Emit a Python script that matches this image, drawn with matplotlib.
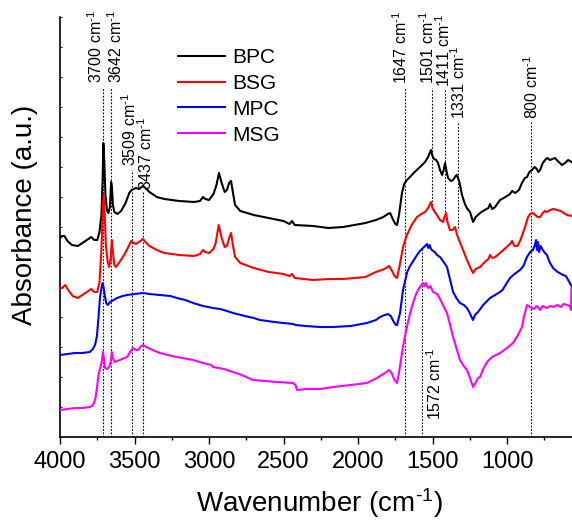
import matplotlib
matplotlib.use('Agg')
import matplotlib.pyplot as plt
import numpy as np

plt.rcParams['font.family'] = ['Liberation Sans', 'DejaVu Sans']
plt.rcParams['mathtext.default'] = 'regular'

# spectra: wavenumber (cm-1) and offset absorbance (arbitrary units)
bpc_wn = [4000, 3985, 3970, 3950, 3920, 3880, 3840, 3810, 3790, 3770, 3750, 3735, 3722, 3714, 3709,
          3703, 3695, 3685, 3675, 3665, 3657, 3652, 3645, 3635, 3615, 3590, 3560, 3535, 3520, 3505,
          3490, 3470, 3443, 3420, 3400, 3350, 3300, 3200, 3100, 3060, 3040, 3025, 3000, 2970, 2950,
          2933, 2915, 2895, 2880, 2865, 2852, 2840, 2825, 2790, 2700, 2600, 2500, 2460, 2443, 2425,
          2300, 2200, 2100, 1950, 1880, 1830, 1800, 1785, 1770, 1750, 1738, 1725, 1705, 1690, 1672,
          1651, 1620, 1584, 1550, 1530, 1510, 1500, 1490, 1475, 1463, 1450, 1436, 1425, 1416, 1405,
          1396, 1375, 1362, 1345, 1336, 1320, 1302, 1285, 1270, 1248, 1228, 1210, 1181, 1150, 1125,
          1114, 1100, 1080, 1047, 1010, 980, 966, 945, 920, 900, 880, 866, 850, 832, 815,
          800, 790, 778, 760, 745, 730, 711, 695, 678, 660, 645, 631, 610, 590, 566]
bpc_abs = [199, 201, 201, 196, 192, 191, 195, 198, 200, 197, 197, 205, 222, 257, 294,
           277, 242, 227, 224, 230, 255, 251, 232, 225, 223, 226, 234, 244, 247, 248,
           249, 248, 251, 248, 245, 240, 238, 236, 235, 236, 240, 238, 237, 243, 252,
           264, 254, 245, 247, 254, 256, 245, 232, 226, 222, 219, 216, 213, 216, 212,
           211, 209, 210, 214, 217, 220, 223, 224, 219, 213, 212, 222, 244, 253, 257,
           260, 265, 270, 275, 280, 287, 281, 278, 277, 274, 267, 262, 267, 274, 265,
           259, 256, 257, 261, 262, 255, 242, 234, 229, 225, 215, 220, 224, 227, 229,
           233, 228, 230, 237, 240, 243, 246, 244, 247, 254, 259, 260, 265, 267, 270,
           268, 265, 267, 274, 277, 279, 277, 278, 279, 276, 274, 272, 274, 277, 275]

bsg_wn = [4000, 3985, 3965, 3945, 3915, 3880, 3840, 3810, 3790, 3770, 3750, 3735, 3722, 3714, 3708,
          3700, 3692, 3680, 3670, 3660, 3652, 3645, 3635, 3625, 3600, 3570, 3545, 3522, 3505, 3490,
          3470, 3443, 3420, 3400, 3350, 3300, 3200, 3100, 3060, 3040, 3025, 3000, 2970, 2955, 2935,
          2915, 2895, 2880, 2865, 2852, 2840, 2825, 2790, 2700, 2600, 2500, 2460, 2443, 2425, 2300,
          2200, 2100, 1950, 1880, 1840, 1810, 1792, 1775, 1755, 1738, 1720, 1698, 1672, 1640, 1604,
          1575, 1550, 1530, 1510, 1500, 1485, 1470, 1450, 1429, 1420, 1409, 1400, 1383, 1365, 1349,
          1335, 1316, 1295, 1269, 1245, 1228, 1210, 1181, 1150, 1125, 1114, 1100, 1080, 1047, 1010,
          980, 966, 950, 930, 910, 893, 875, 859, 845, 826, 810, 795, 778, 760, 745,
          732, 710, 690, 664, 640, 620, 597, 566]
bsg_abs = [149, 149, 152, 147, 141, 139, 143, 146, 148, 145, 145, 155, 187, 222, 242,
           222, 192, 175, 170, 179, 197, 185, 172, 170, 175, 182, 189, 196, 194, 193,
           195, 198, 194, 191, 187, 184, 182, 181, 183, 187, 185, 184, 188, 194, 212,
           199, 190, 191, 199, 204, 192, 180, 174, 169, 165, 163, 161, 163, 159, 157,
           158, 158, 160, 165, 167, 169, 171, 167, 161, 159, 172, 190, 202, 212, 220,
           223, 225, 229, 235, 229, 225, 222, 217, 215, 220, 224, 215, 207, 207, 210,
           202, 195, 187, 177, 169, 164, 168, 170, 175, 178, 182, 179, 180, 184, 189,
           193, 196, 191, 191, 197, 204, 212, 220, 223, 224, 222, 220, 220, 224, 226,
           225, 227, 228, 227, 226, 224, 222, 221]

mpc_wn = [4000, 3950, 3900, 3850, 3800, 3780, 3765, 3752, 3742, 3732, 3722, 3714, 3708, 3700, 3690,
          3680, 3664, 3640, 3617, 3580, 3550, 3500, 3443, 3400, 3329, 3260, 3215, 3160, 3107, 3040,
          2973, 2926, 2880, 2839, 2760, 2700, 2658, 2560, 2500, 2436, 2420, 2350, 2255, 2168, 2050,
          1940, 1880, 1852, 1820, 1799, 1780, 1760, 1745, 1738, 1728, 1718, 1698, 1670, 1651, 1625,
          1604, 1585, 1564, 1550, 1537, 1528, 1520, 1510, 1497, 1485, 1470, 1450, 1430, 1403, 1385,
          1362, 1340, 1316, 1290, 1269, 1250, 1235, 1228, 1215, 1195, 1160, 1114, 1080, 1047, 1030,
          1010, 980, 950, 913, 890, 866, 845, 826, 815, 805, 798, 792, 785, 775, 760,
          745, 732, 715, 691, 660, 624, 605, 590, 575, 566]
mpc_abs = [82, 83, 84, 84, 85, 88, 92, 101, 119, 139, 149, 154, 150, 142, 134,
           132, 135, 137, 139, 141, 142, 143, 144, 143, 142, 141, 139, 137, 134, 131,
           129, 128, 126, 124, 121, 119, 117, 115, 114, 113, 112, 111, 110, 110, 111,
           114, 117, 120, 122, 123, 121, 115, 112, 112, 118, 124, 147, 165, 171, 177,
           182, 186, 189, 191, 193, 189, 192, 188, 186, 185, 182, 180, 176, 170, 159,
           145, 139, 134, 132, 129, 124, 119, 117, 122, 125, 132, 139, 142, 145, 147,
           152, 159, 163, 167, 171, 180, 185, 187, 191, 197, 187, 195, 185, 191, 187,
           184, 182, 175, 169, 165, 162, 161, 157, 153, 151]

msg_wn = [4000, 3950, 3900, 3850, 3800, 3785, 3772, 3762, 3752, 3742, 3730, 3720, 3712, 3705, 3698,
          3685, 3670, 3660, 3652, 3645, 3633, 3600, 3550, 3525, 3510, 3490, 3476, 3460, 3443, 3420,
          3380, 3329, 3250, 3180, 3107, 3040, 2985, 2973, 2900, 2839, 2780, 2705, 2620, 2544, 2436,
          2420, 2409, 2350, 2255, 2168, 2050, 1940, 1873, 1830, 1800, 1792, 1775, 1755, 1738, 1725,
          1705, 1690, 1672, 1650, 1631, 1610, 1597, 1580, 1564, 1555, 1545, 1530, 1515, 1497, 1480,
          1463, 1440, 1420, 1403, 1385, 1362, 1340, 1316, 1290, 1269, 1248, 1235, 1228, 1215, 1195,
          1181, 1160, 1134, 1100, 1047, 1000, 960, 930, 900, 885, 866, 855, 846, 820, 800,
          778, 760, 735, 710, 691, 660, 640, 620, 597, 580, 570, 568]
msg_abs = [27, 28, 29, 29, 30, 31, 34, 39, 49, 62, 69, 75, 85, 79, 69,
           68, 70, 75, 85, 79, 75, 77, 80, 86, 89, 87, 87, 90, 92, 90,
           87, 84, 81, 79, 77, 74, 72, 70, 68, 65, 62, 57, 56, 55, 54,
           52, 47, 48, 48, 50, 52, 54, 59, 63, 66, 67, 64, 57, 54, 64,
           84, 97, 110, 124, 134, 143, 147, 151, 154, 151, 154, 149, 151, 145, 144,
           142, 135, 129, 124, 114, 100, 89, 77, 71, 67, 59, 53, 50, 53, 59,
           60, 68, 75, 80, 84, 89, 94, 101, 110, 121, 132, 131, 130, 128, 131,
           127, 131, 129, 131, 130, 132, 130, 133, 132, 131, 127, 149]

# marked bands: label text, where the dotted guide sits, guide extent
band_labels = ['3700', '3642', '3509', '3437', '1647', '1572', '1501', '1411', '1331', '800']
band_wn = [3710, 3655, 3520, 3442, 1688, 1573, 1505, 1418, 1332, 840]
band_top = [349, 349, 267, 245, 349, 189, 349, 347, 315, 315]
band_bottom = [0, 0, 0, 0, 0, 0, 232, 222, 209, 0]
# text anchor height and horizontal shift (px) from the guide
band_text_y = [354, 354, 271, 247, 353, 90, 353, 350, 318, 318]
band_text_dx = [-8, 4, -1.5, 3, -3.5, 13, -4.5, -1, 1, 1]

series = [('BPC', bpc_wn, bpc_abs, '#000000'),
          ('BSG', bsg_wn, bsg_abs, '#ff0000'),
          ('MPC', mpc_wn, mpc_abs, '#0000ff'),
          ('MSG', msg_wn, msg_abs, '#ff00ff')]

SUP = '$^{\u2010 1}$'   # short hyphen like the original, not a long minus

fig = plt.figure(figsize=(5.72, 5.20), dpi=100)
ax = fig.add_axes([60 / 572, 83 / 520, 512 / 572, 420 / 520])

for name, wn, ab, col in series:
    ax.plot(wn, ab, color=col, linewidth=1.5, label=name, zorder=3)

# dotted guide lines + rotated labels
for lab, wn, top, bot, ty, dx in zip(band_labels, band_wn, band_top, band_bottom,
                                     band_text_y, band_text_dx):
    ax.vlines(wn, bot, top, colors='black', linestyles=(0, (1.5, 1.5)),
              linewidth=0.8, zorder=2)
    va = 'top' if ty < top - 50 else 'bottom'
    ax.annotate(lab + ' cm' + SUP, xy=(wn, ty), xytext=(dx, 0),
                textcoords='offset pixels', rotation=90, ha='center', va=va,
                fontsize=11.5)

ax.set_xlim(4000, 564)
ax.set_ylim(0, 420)
ax.set_xticks(np.arange(4000, 999, -500))
ax.set_xticks(np.arange(3750, 564, -250), minor=True)
ax.set_yticks(np.arange(0, 421, 30))
ax.set_yticklabels([])

ax.spines['top'].set_visible(False)
ax.spines['right'].set_visible(False)
for s in ['left', 'bottom']:
    ax.spines[s].set_linewidth(1.2)

ax.tick_params(axis='x', which='major', direction='out', length=5, width=1,
               labelsize=17, pad=5)
ax.tick_params(axis='x', which='minor', direction='out', length=2.5, width=1)
ax.tick_params(axis='y', which='major', direction='in', length=1.5, width=0.8)

ax.set_xlabel('Wavenumber (cm' + SUP + ')', fontsize=20)
ax.set_ylabel('Absorbance (a.u.)', fontsize=20)
ax.xaxis.set_label_coords(0.506, -0.118)
ax.yaxis.set_label_coords(-0.043, 0.53)

ax.legend(loc='upper left', bbox_to_anchor=(178 / 572, 1 - 48 / 520),
          bbox_transform=fig.transFigure, frameon=False, fontsize=15,
          handlelength=2.25, handletextpad=0.35, labelspacing=0.33,
          borderpad=0, borderaxespad=0)

fig.savefig('out.png', dpi=100)
